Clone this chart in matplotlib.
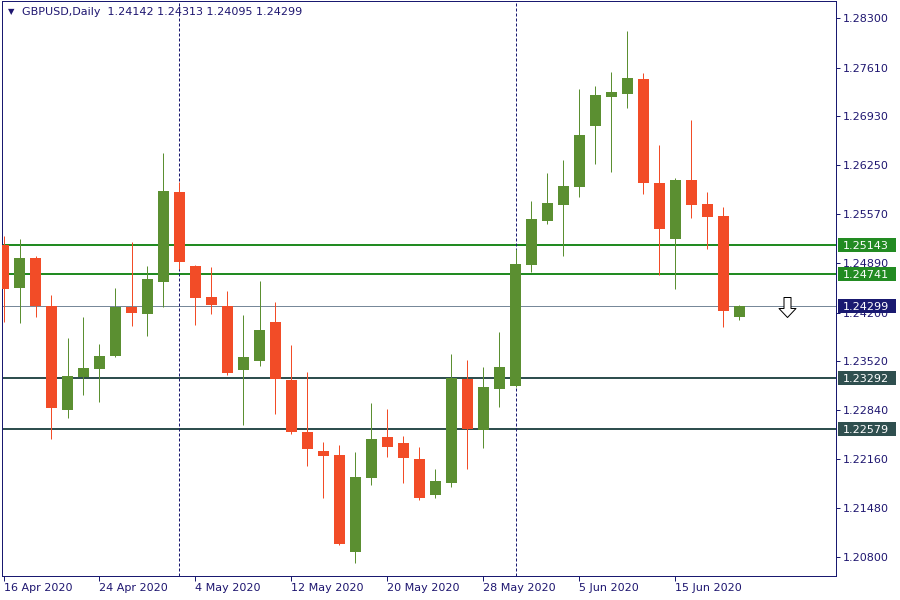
import matplotlib
matplotlib.use("Agg")
import matplotlib.pyplot as plt
import matplotlib.transforms as mtransforms
from matplotlib.patches import Rectangle
from matplotlib.path import Path
import numpy as np
import pandas as pd

# ---------------- data ----------------
symbol = "GBPUSD,Daily"
dates = pd.bdate_range("2020-04-16", periods=47)

opens = [1.25145, 1.24547, 1.24960, 1.24296, 1.22849, 1.23308, 1.23420, 1.23596, 1.24278, 1.24185,
         1.24630, 1.25879, 1.24849, 1.24417, 1.24296, 1.23406, 1.23531, 1.24070, 1.23262, 1.22539,
         1.22274, 1.22219, 1.20873, 1.21903, 1.22469, 1.22386, 1.22163, 1.21666, 1.21833, 1.23276,
         1.22571, 1.23141, 1.23183, 1.24867, 1.25479, 1.25702, 1.25952, 1.26801, 1.27205, 1.27247,
         1.27451, 1.26004, 1.25229, 1.26046, 1.25712, 1.25545, 1.24142]
highs = [1.25266, 1.25220, 1.24988, 1.24445, 1.23847, 1.24139, 1.23763, 1.24543, 1.25183, 1.24849,
         1.26421, 1.26014, 1.24863, 1.24835, 1.24501, 1.24167, 1.24640, 1.24348, 1.23750, 1.23374,
         1.22400, 1.22358, 1.22261, 1.22942, 1.22859, 1.22483, 1.22330, 1.22024, 1.23624, 1.23541,
         1.23443, 1.23930, 1.25085, 1.25753, 1.26143, 1.26324, 1.27312, 1.27354, 1.27549, 1.28119,
         1.27535, 1.26533, 1.26073, 1.26881, 1.25879, 1.25670, 1.24313]
lows = [1.24070, 1.24060, 1.24143, 1.22446, 1.22738, 1.23058, 1.22960, 1.23587, 1.24018, 1.23879,
        1.24282, 1.24811, 1.24028, 1.24185, 1.23336, 1.22640, 1.23461, 1.22793, 1.22515, 1.22070,
        1.21625, 1.20966, 1.20720, 1.21805, 1.22195, 1.21833, 1.21597, 1.21625, 1.21778, 1.22028,
        1.22320, 1.22891, 1.23165, 1.24770, 1.25438, 1.24992, 1.25813, 1.26272, 1.26161, 1.27052,
        1.25855, 1.24728, 1.24533, 1.25521, 1.25090, 1.24004, 1.24095]
closes = [1.24529, 1.24960, 1.24296, 1.22877, 1.23318, 1.23429, 1.23596, 1.24278, 1.24199, 1.24668,
          1.25893, 1.24909, 1.24408, 1.24310, 1.23364, 1.23582, 1.23958, 1.23281, 1.22543, 1.22306,
          1.22209, 1.20984, 1.21913, 1.22441, 1.22334, 1.22181, 1.21625, 1.21857, 1.23290, 1.22585,
          1.23165, 1.23443, 1.24877, 1.25503, 1.25726, 1.25962, 1.26672, 1.27228, 1.27270, 1.27465,
          1.26008, 1.25368, 1.26046, 1.25702, 1.25535, 1.24227, 1.24299]

levels_green = [1.25143, 1.24741]
levels_slate = [1.23292, 1.22579]
bid_price = 1.24299
ytick_values = [1.28300, 1.27610, 1.26930, 1.26250, 1.25570, 1.24890,
                1.24200, 1.23520, 1.22840, 1.22160, 1.21480, 1.20800]
xtick_step = 6
arrow_bar = 49
arrow_price = 1.24278

# ---------------- style ----------------
UP = "#5B8F31"
DOWN = "#F24C27"
GREEN_LVL = "#228B22"
SLATE_LVL = "#2F4F4F"
BID = "#778899"
NAVY = "#191970"
TXT = "#1E1670"
PX = 0.72  # one pixel in points at 100 dpi

fig = plt.figure(figsize=(9, 6), dpi=100)
ax_l, ax_r, ax_t, ax_b = 2, 836, 1, 576
ax = fig.add_axes([ax_l / 900, (600 - ax_b) / 600, (ax_r - ax_l) / 900, (ax_b - ax_t) / 600])

bar_px = 16.0
x0_px = 3.5
px_per_price = 7186.0
ref_price, ref_y = 1.283, 18.0
ax.set_xlim((ax_l - x0_px) / bar_px, (ax_r - x0_px) / bar_px)
ax.set_ylim(ref_price - (ax_b - ref_y) / px_per_price, ref_price + (ref_y - ax_t) / px_per_price)

o = np.array(opens); h = np.array(highs); l = np.array(lows); c = np.array(closes)
x = np.arange(len(o))
up = c >= o
cols = np.where(up, UP, DOWN)

# levels (behind candles)
for lv in levels_green:
    ax.axhline(lv, color=GREEN_LVL, lw=2 * PX, zorder=2)
for lv in levels_slate:
    ax.axhline(lv, color=SLATE_LVL, lw=2 * PX, zorder=2)
ax.axhline(bid_price, color=BID, lw=1 * PX, zorder=2)

# month separators
months = dates.month
for i in range(1, len(dates)):
    if months[i] != months[i - 1]:
        ax.axvline(x[i], color=NAVY, lw=1 * PX, ls=(0, (3, 2)), zorder=2)

# candles
ax.vlines(x, l, h, colors=cols, lw=1 * PX, zorder=3)
ax.bar(x, np.abs(c - o), bottom=np.minimum(o, c), width=11 / bar_px, color=cols,
       linewidth=0, zorder=4)

# arrow object
verts = [(-3.5, 10), (3.5, 10), (3.5, -1), (8.5, -1), (0, -10), (-8.5, -1), (-3.5, -1), (-3.5, 10)]
arrow_marker = Path(verts, [Path.MOVETO] + [Path.LINETO] * 6 + [Path.CLOSEPOLY])
ax.plot([arrow_bar], [arrow_price], marker=arrow_marker, markersize=20 * PX,
        markerfacecolor="white", markeredgecolor="black", markeredgewidth=1 * PX,
        linestyle="none", zorder=6)

# axes styling
for sp in ax.spines.values():
    sp.set_color(NAVY)
    sp.set_linewidth(1 * PX)

ax.yaxis.tick_right()
ax.set_yticks(ytick_values)
ax.set_yticklabels([f"{v:.5f}" for v in ytick_values])
ax.tick_params(axis="y", direction="out", length=4 * PX, width=1 * PX, color=NAVY,
               labelcolor=TXT, labelsize=8, pad=3 * PX)

xt = x[::xtick_step]
ax.set_xticks(xt)
ax.set_xticklabels([f"{d.day} {d.strftime('%b %Y')}" for d in dates[::xtick_step]], ha="left")
ax.tick_params(axis="x", direction="out", length=5 * PX, width=1 * PX, color=NAVY,
               labelcolor=TXT, labelsize=8, pad=2 * PX)

# right-side price labels
blend = mtransforms.blended_transform_factory(ax.transAxes, ax.transData)
ax_w_px = ax_r - ax_l
def price_label(price, face):
    hgt = 14 / px_per_price
    ax.add_patch(Rectangle((1 + 1.5 / ax_w_px, price - hgt / 2), 58 / ax_w_px, hgt,
                           transform=blend, facecolor=face, edgecolor="none",
                           clip_on=False, zorder=10))
    ax.text(1 + 7 / ax_w_px, price, f"{price:.5f}", transform=blend, color="white",
            fontsize=8, va="center_baseline", ha="left", clip_on=False, zorder=11)

for lv in levels_green:
    price_label(lv, GREEN_LVL)
for lv in levels_slate:
    price_label(lv, SLATE_LVL)
price_label(bid_price, NAVY)

# header
fig.text(8 / 900, 1 - 12 / 600, "\u25BC", fontsize=6, color=TXT, va="center", ha="left")
hdr = f"{symbol}  {o[-1]:.5f} {h[-1]:.5f} {l[-1]:.5f} {c[-1]:.5f}"
fig.text(22 / 900, 1 - 12 / 600, hdr, fontsize=8, color=TXT, va="center", ha="left")

fig.savefig("out.png", dpi=100, facecolor="white")
